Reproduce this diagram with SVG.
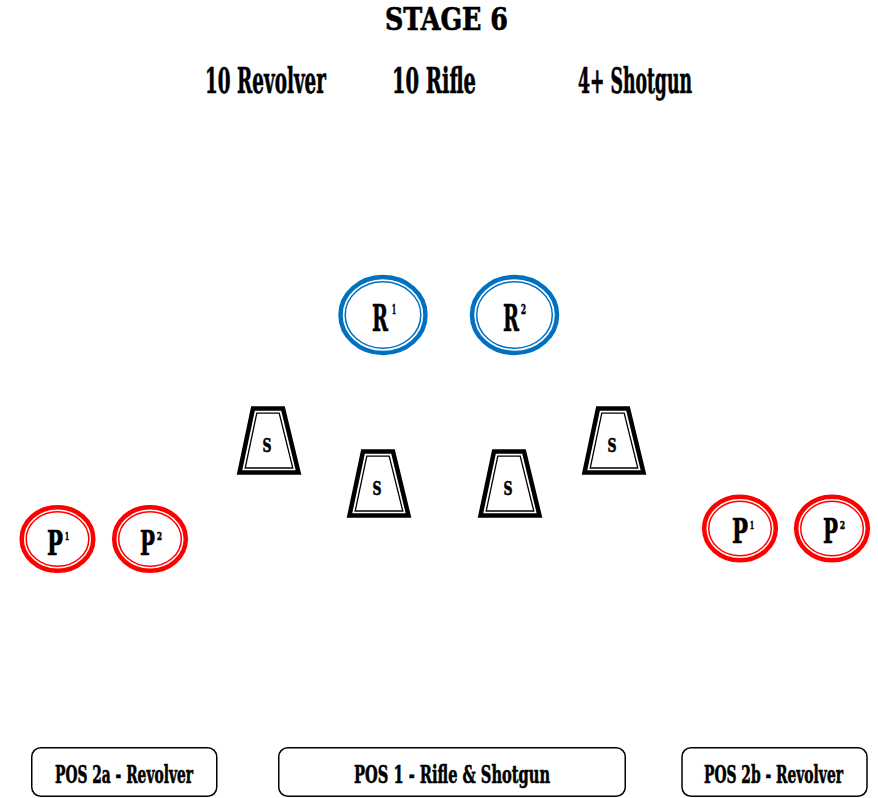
<svg xmlns="http://www.w3.org/2000/svg" width="878" height="798" viewBox="0 0 878 798">
<style>
.t{font-family:"DejaVu Serif Condensed","DejaVu Serif","Liberation Serif",serif;font-weight:bold;fill:#000;stroke:#000;stroke-width:0.6;}
.blue{fill:#fff;stroke:#0070C0;}
.red{fill:#fff;stroke:#FF0000;}
.thick{stroke-width:4.5;}
.thin{fill:none;stroke-width:1.5;}
.trapo{fill:#fff;stroke:#000;stroke-width:4.5;stroke-linejoin:miter;}
.trapi{fill:none;stroke:#000;stroke-width:1.3;}
.box{fill:#fff;stroke:#000;stroke-width:1.5;}
</style>
<defs>
<g id="trap">
<polygon class="trapo" points="16,2.5 46,2.5 61.5,66.5 2.5,66.5"/>
<polygon class="trapi" points="19.8,7.2 42.2,7.2 55.8,62 8.2,62"/>
</g>
</defs>
<rect width="878" height="798" fill="#fff"/>

<g id="title">
<text class="t" x="385" y="30" font-size="31" textLength="123" lengthAdjust="spacingAndGlyphs">STAGE 6</text>
</g>
<g id="rounds">
<text class="t" transform="translate(205 93) scale(0.6 1)" font-size="35" textLength="201.7" lengthAdjust="spacingAndGlyphs">10 Revolver</text>
<text class="t" transform="translate(392 93) scale(0.6 1)" font-size="35" textLength="140" lengthAdjust="spacingAndGlyphs">10 Rifle</text>
<text class="t" transform="translate(578 93) scale(0.6 1)" font-size="35" textLength="190" lengthAdjust="spacingAndGlyphs">4+ Shotgun</text>
</g>

<g id="connectors"></g>

<g id="R1">
<ellipse class="blue thick" cx="383" cy="315" rx="42.5" ry="38"/>
<ellipse class="blue thin" cx="383" cy="315" rx="37.8" ry="33.3"/>
<text class="t" transform="translate(372 331) scale(0.6 1)" font-size="38" textLength="26.7" lengthAdjust="spacingAndGlyphs">R</text>
<text class="t" transform="translate(392 314) scale(0.6 1)" font-size="12" textLength="6.7" lengthAdjust="spacingAndGlyphs">1</text>
</g>
<g id="R2">
<ellipse class="blue thick" cx="514.5" cy="315" rx="42.5" ry="38"/>
<ellipse class="blue thin" cx="514.5" cy="315" rx="37.8" ry="33.3"/>
<text class="t" transform="translate(503 331) scale(0.6 1)" font-size="38" textLength="26.7" lengthAdjust="spacingAndGlyphs">R</text>
<text class="t" transform="translate(521 314) scale(0.6 1)" font-size="12" textLength="8.3" lengthAdjust="spacingAndGlyphs">2</text>
</g>

<g id="S1">
<use href="#trap" x="237" y="406"/>
<text class="t" transform="translate(267 452) scale(0.6 1)" font-size="19" text-anchor="middle" textLength="15" lengthAdjust="spacingAndGlyphs">S</text>
</g>
<g id="S2">
<use href="#trap" x="347" y="449"/>
<text class="t" transform="translate(377 495) scale(0.6 1)" font-size="19" text-anchor="middle" textLength="15" lengthAdjust="spacingAndGlyphs">S</text>
</g>
<g id="S3">
<use href="#trap" x="478" y="449"/>
<text class="t" transform="translate(508 495) scale(0.6 1)" font-size="19" text-anchor="middle" textLength="15" lengthAdjust="spacingAndGlyphs">S</text>
</g>
<g id="S4">
<use href="#trap" x="582" y="406"/>
<text class="t" transform="translate(612 452) scale(0.6 1)" font-size="19" text-anchor="middle" textLength="15" lengthAdjust="spacingAndGlyphs">S</text>
</g>

<g id="P1L">
<ellipse class="red thick" cx="57.5" cy="539" rx="35.8" ry="31.8"/>
<ellipse class="red thin" cx="57.5" cy="539" rx="31.3" ry="27.3"/>
<text class="t" transform="translate(47 555) scale(0.6 1)" font-size="33" textLength="26.7" lengthAdjust="spacingAndGlyphs">P</text>
<text class="t" transform="translate(65 540) scale(0.6 1)" font-size="11" textLength="6.7" lengthAdjust="spacingAndGlyphs">1</text>
</g>
<g id="P2L">
<ellipse class="red thick" cx="150" cy="539" rx="35.8" ry="31.8"/>
<ellipse class="red thin" cx="150" cy="539" rx="31.3" ry="27.3"/>
<text class="t" transform="translate(140 555) scale(0.6 1)" font-size="33" textLength="25" lengthAdjust="spacingAndGlyphs">P</text>
<text class="t" transform="translate(157 540) scale(0.6 1)" font-size="11" textLength="8.3" lengthAdjust="spacingAndGlyphs">2</text>
</g>
<g id="P1R">
<ellipse class="red thick" cx="740" cy="528.5" rx="35.8" ry="31.8"/>
<ellipse class="red thin" cx="740" cy="528.5" rx="31.3" ry="27.3"/>
<text class="t" transform="translate(732 543) scale(0.6 1)" font-size="33" textLength="26.7" lengthAdjust="spacingAndGlyphs">P</text>
<text class="t" transform="translate(750 529) scale(0.6 1)" font-size="11" textLength="6.7" lengthAdjust="spacingAndGlyphs">1</text>
</g>
<g id="P2R">
<ellipse class="red thick" cx="832" cy="528.5" rx="35.8" ry="31.8"/>
<ellipse class="red thin" cx="832" cy="528.5" rx="31.3" ry="27.3"/>
<text class="t" transform="translate(823 543) scale(0.6 1)" font-size="33" textLength="25" lengthAdjust="spacingAndGlyphs">P</text>
<text class="t" transform="translate(840 529) scale(0.6 1)" font-size="11" textLength="8.3" lengthAdjust="spacingAndGlyphs">2</text>
</g>

<g id="pos2a">
<rect class="box" x="31.75" y="747.75" width="185" height="48.5" rx="9"/>
<text class="t" transform="translate(55 783) scale(0.6 1)" font-size="25" textLength="230" lengthAdjust="spacingAndGlyphs">POS 2a - Revolver</text>
</g>
<g id="pos1">
<rect class="box" x="278.75" y="747.75" width="346.5" height="48.5" rx="9"/>
<text class="t" transform="translate(354 783) scale(0.6 1)" font-size="25" textLength="326.7" lengthAdjust="spacingAndGlyphs">POS 1 - Rifle &amp; Shotgun</text>
</g>
<g id="pos2b">
<rect class="box" x="682" y="747.75" width="185" height="48.5" rx="9"/>
<text class="t" transform="translate(704 783) scale(0.6 1)" font-size="25" textLength="231.7" lengthAdjust="spacingAndGlyphs">POS 2b - Revolver</text>
</g>
</svg>
